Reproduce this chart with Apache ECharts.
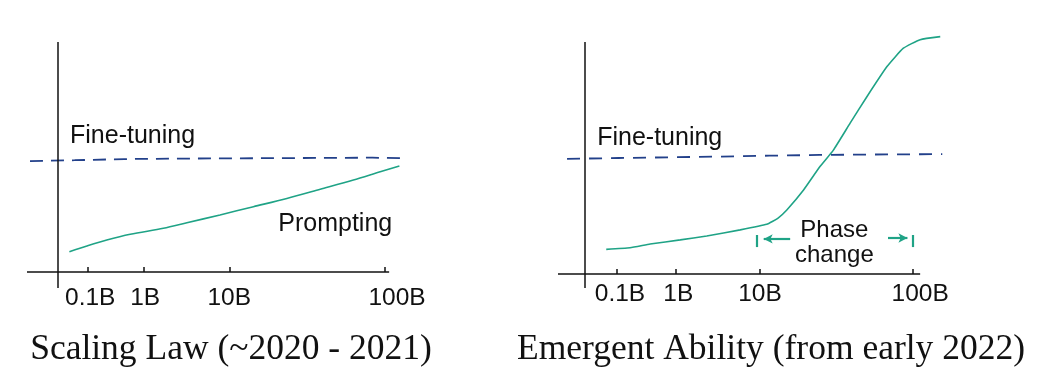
<!DOCTYPE html>
<head>
    <meta charset="UTF-8">
    <title>Scaling Law vs Emergent Ability</title>
    <script src="https://cdn.jsdelivr.net/npm/echarts@6/dist/echarts.min.js"></script>
    <style>
        body { margin: 0; background: #fff; }
        #main { width: 1050px; height: 375px; }
    </style>
</head>
<body>
    <div id="main"></div>
    <script type="text/javascript">
        // x is a sketch position along the model-size axis (0 = y axis, 100 = axis end), y is 0..100 ability
        var tickLabels = ['0.1B', '1B', '10B', '100B'];
        var leftTicks = [9.1, 26, 51.7, 98.8];
        var leftLabelAt = [9.7, 26.3, 51.7, 102.4];
        var rightTicks = [9.3, 26.9, 52.2, 97.9];
        var rightLabelAt = [10.4, 27.8, 52.2, 100];

        var leftFineX = [-8.5, 5, 20, 35, 50, 65, 80, 95, 104.8];
        var leftFineY = [48.2, 48.6, 49.1, 49.3, 49.4, 49.5, 49.6, 49.7, 49.5];
        var leftPromptX = [3.4, 8.7, 14.7, 21.8, 31.8, 38.9, 48.9, 59.0, 69.1, 79.2, 89.2, 97.3, 103.1];
        var leftPromptY = [8.8, 11.3, 13.9, 16.4, 19.0, 21.4, 24.8, 28.4, 32.0, 36.0, 40.0, 43.6, 46.1];

        var rightFineX = [-5.4, 10, 25, 40, 55, 70, 85, 100, 106.6];
        var rightFineY = [49.6, 50.0, 50.3, 50.6, 51.0, 51.3, 51.5, 51.6, 51.7];
        var rightEmergX = [6.3, 13.4, 19.4, 28.4, 36.3, 46.3, 54.2, 57.5, 60.2, 65.2, 70.1, 74.1, 79.1, 84.1, 90.1, 95.0, 100, 106];
        var rightEmergY = [10.6, 11.3, 12.9, 14.7, 16.4, 19.0, 21.4, 24.0, 27.6, 36.2, 46.3, 53.4, 65.0, 76.4, 89.4, 97.3, 101.0, 102.3];

        var titles = ['Scaling Law (~2020 - 2021)', 'Emergent Ability (from early 2022)'];

        function pairs(xs, ys) {
            return xs.map(function (x, i) { return [x, ys[i]]; });
        }

        var ink = '#111';
        var navy = '#22408a';
        var green = '#1fa386';
        var sans = 'Liberation Sans';

        function makeXAxis(idx, min, max, ticks, labelAt, margin) {
            return {
                type: 'value', gridIndex: idx, min: min, max: max,
                axisLine: { show: false, onZero: true },
                axisTick: { show: true, inside: true, length: 5, customValues: ticks, lineStyle: { color: ink, width: 1.5 } },
                axisLabel: {
                    show: true, customValues: labelAt, margin: margin,
                    formatter: function (v) { return tickLabels[labelAt.indexOf(v)]; },
                    color: ink, fontFamily: sans, fontSize: 24.5
                },
                splitLine: { show: false }
            };
        }

        function makeYAxis(idx, min, max) {
            return {
                type: 'value', gridIndex: idx, min: min, max: max,
                axisLine: { show: false, onZero: true },
                axisTick: { show: false },
                axisLabel: { show: false },
                splitLine: { show: false }
            };
        }

        // the two axis lines, drawn only up to the 100 mark so the curves may run past them
        function axesSeries(idx, xMin, yMin) {
            return {
                type: 'line', xAxisIndex: idx, yAxisIndex: idx, data: [], silent: true,
                markLine: {
                    silent: true, animation: false, symbol: 'none', label: { show: false },
                    lineStyle: { color: ink, width: 1.5, type: 'solid' },
                    data: [
                        [{ coord: [xMin, 0] }, { coord: [100, 0] }],
                        [{ coord: [0, yMin] }, { coord: [0, 100] }]
                    ]
                }
            };
        }

        function textSeries(idx, items, position, size) {
            return {
                type: 'scatter', xAxisIndex: idx, yAxisIndex: idx, symbolSize: 0, silent: true,
                itemStyle: { opacity: 1 },
                data: items,
                label: {
                    show: true, position: position, distance: 0, formatter: '{b}',
                    color: ink, fontFamily: sans, fontSize: size, lineHeight: 25
                }
            };
        }

        var myChart = echarts.init(document.getElementById('main'));
        myChart.setOption({
            backgroundColor: '#fff',
            animation: false,
            title: [
                { text: titles[0], left: 226, top: 327, textAlign: 'center',
                  textStyle: { fontFamily: 'Liberation Serif', fontWeight: 'normal', fontSize: 35.5, color: ink } },
                { text: titles[1], left: 766, top: 327, textAlign: 'center',
                  textStyle: { fontFamily: 'Liberation Serif', fontWeight: 'normal', fontSize: 35.5, color: ink } }
            ],
            grid: [
                { left: 27, top: 32.8, width: 382, height: 255.3 },
                { left: 558, top: 32.7, width: 385.6, height: 255.2 }
            ],
            xAxis: [makeXAxis(0, -9.4, 106, leftTicks, leftLabelAt, -2), makeXAxis(1, -8.1, 107, rightTicks, rightLabelAt, -6)],
            yAxis: [makeYAxis(0, -7, 104), makeYAxis(1, -6, 104)],
            series: [
                axesSeries(0, -9.4, -7),
                axesSeries(1, -8.1, -6),
                {
                    name: 'Fine-tuning', type: 'line', xAxisIndex: 0, yAxisIndex: 0,
                    symbol: 'none', data: pairs(leftFineX, leftFineY),
                    lineStyle: { color: navy, width: 1.8, type: [13, 8] }
                },
                {
                    name: 'Prompting', type: 'line', xAxisIndex: 0, yAxisIndex: 0,
                    symbol: 'none', smooth: 0.3, data: pairs(leftPromptX, leftPromptY),
                    lineStyle: { color: green, width: 1.6 }
                },
                {
                    name: 'Fine-tuning', type: 'line', xAxisIndex: 1, yAxisIndex: 1,
                    symbol: 'none', data: pairs(rightFineX, rightFineY),
                    lineStyle: { color: navy, width: 1.8, type: [13, 9] }
                },
                {
                    name: 'Emergent', type: 'line', xAxisIndex: 1, yAxisIndex: 1,
                    symbol: 'none', smooth: 0.15, data: pairs(rightEmergX, rightEmergY),
                    lineStyle: { color: green, width: 1.6 }
                },
                {
                    // phase change bracket
                    type: 'line', xAxisIndex: 1, yAxisIndex: 1, data: [], silent: true,
                    markLine: {
                        silent: true, animation: false, symbol: 'none',
                        label: { show: false },
                        lineStyle: { color: green, width: 2.2, type: 'solid' },
                        data: [
                            [{ coord: [51.3, 11.6] }, { coord: [51.3, 16.8] }],
                            [{ coord: [53.3, 15.1], symbol: 'arrow', symbolSize: [7, 9] }, { coord: [61.2, 15.1] }],
                            [{ coord: [90.4, 15.5] }, { coord: [96.2, 15.5], symbol: 'arrow', symbolSize: [7, 9] }],
                            [{ coord: [97.9, 11.6] }, { coord: [97.9, 16.8] }]
                        ]
                    }
                },
                textSeries(0, [
                    { name: 'Fine-tuning', value: [3.6, 59.1] },
                    { name: 'Prompting', value: [66.5, 20.9] }
                ], 'right', 25),
                textSeries(1, [
                    { name: 'Fine-tuning', value: [3.6, 58.6] }
                ], 'right', 25),
                textSeries(1, [
                    { name: 'Phase\nchange', value: [74.4, 13.6] }
                ], 'inside', 24)
            ]
        });
    </script>
</body>
